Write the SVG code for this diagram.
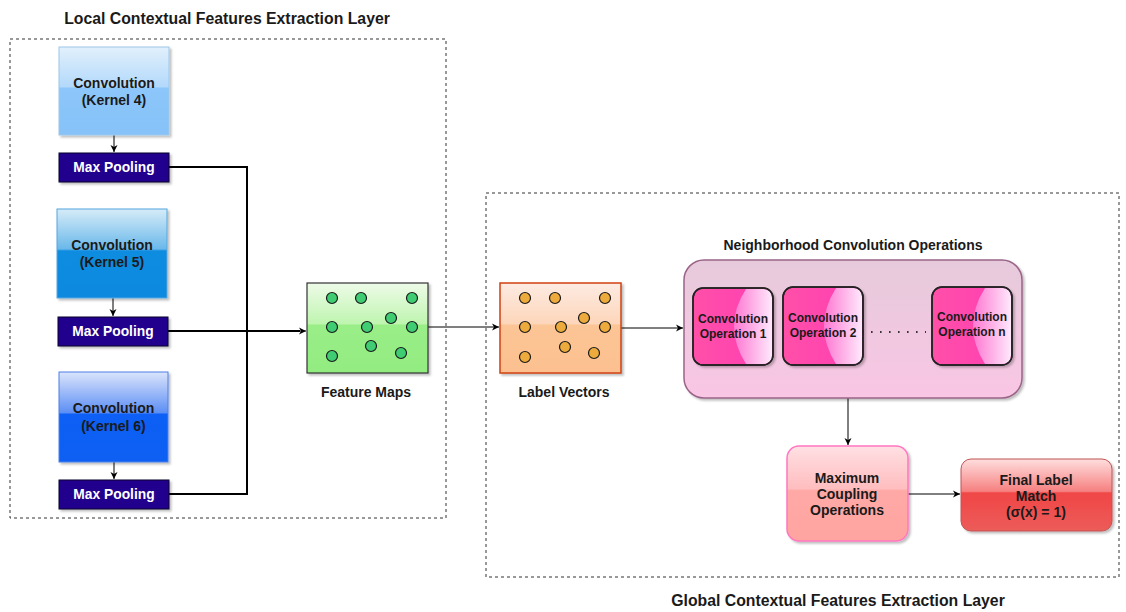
<svg xmlns="http://www.w3.org/2000/svg" width="1126" height="612" viewBox="0 0 1126 612">
<defs>
<style>
text{font-family:"Liberation Sans",Arial,sans-serif;font-weight:bold;text-anchor:middle;fill:#1a1a1a}
.title{font-size:15.8px}
.nt{font-size:14px}
.small{font-size:12px}
.wt{fill:#ffffff;font-size:13.8px}
.frame{fill:none;stroke:#333;stroke-width:1;stroke-dasharray:3 3}
.conn{fill:none;stroke:#000;stroke-width:1}
.thick{fill:none;stroke:#000;stroke-width:2}
.dotg{fill:#3fcc72;stroke:#1a1a1a;stroke-width:1.2}
.doto{fill:#ecab3c;stroke:#1a1a1a;stroke-width:1.2}
.mp{fill:#22008e;stroke:#0a0a2a;stroke-width:1}
.cop{fill:url(#gC);stroke:#222;stroke-width:1.5}
.copo{fill:none;stroke:#222;stroke-width:1.5}
.gl{fill:url(#gL)}
</style>
<linearGradient id="gB1" x1="0" y1="0" x2="0" y2="1">
<stop offset="0" stop-color="#e2f0fc"/><stop offset="0.45" stop-color="#b3d9fb"/><stop offset="0.47" stop-color="#8cc6fa"/><stop offset="1" stop-color="#86c2f8"/>
</linearGradient>
<linearGradient id="gB2" x1="0" y1="0" x2="0" y2="1">
<stop offset="0" stop-color="#d6ecf8"/><stop offset="0.45" stop-color="#6ab8ea"/><stop offset="0.47" stop-color="#108ce0"/><stop offset="1" stop-color="#0f8ae0"/>
</linearGradient>
<linearGradient id="gB3" x1="0" y1="0" x2="0" y2="1">
<stop offset="0" stop-color="#dbe4fb"/><stop offset="0.45" stop-color="#5d8ff5"/><stop offset="0.47" stop-color="#0d5ff5"/><stop offset="1" stop-color="#0f60f2"/>
</linearGradient>
<linearGradient id="gG" x1="0" y1="0" x2="0" y2="1">
<stop offset="0" stop-color="#eefbe8"/><stop offset="0.45" stop-color="#bff5b0"/><stop offset="0.47" stop-color="#9aee88"/><stop offset="1" stop-color="#92ec80"/>
</linearGradient>
<linearGradient id="gO" x1="0" y1="0" x2="0" y2="1">
<stop offset="0" stop-color="#fdebe2"/><stop offset="0.45" stop-color="#fdd6bb"/><stop offset="0.47" stop-color="#fcc595"/><stop offset="1" stop-color="#fcc090"/>
</linearGradient>
<linearGradient id="gN" x1="0" y1="0" x2="0" y2="1">
<stop offset="0" stop-color="#e6cadb"/><stop offset="1" stop-color="#f9c6e4"/>
</linearGradient>
<linearGradient id="gC" x1="0" y1="0" x2="1" y2="0">
<stop offset="0" stop-color="#ff50a8"/><stop offset="1" stop-color="#ff3cb4"/>
</linearGradient>
<linearGradient id="gL" x1="0" y1="0" x2="1" y2="0">
<stop offset="0" stop-color="#ff78d2"/><stop offset="1" stop-color="#ffe8fc"/>
</linearGradient>
<linearGradient id="gP" x1="0" y1="0" x2="0" y2="1">
<stop offset="0" stop-color="#ffe0e4"/><stop offset="0.45" stop-color="#ffbdbf"/><stop offset="0.47" stop-color="#ffa9a6"/><stop offset="1" stop-color="#ffa4a0"/>
</linearGradient>
<linearGradient id="gR" x1="0" y1="0" x2="0" y2="1">
<stop offset="0" stop-color="#ffdede"/><stop offset="0.45" stop-color="#f68080"/><stop offset="0.47" stop-color="#f04646"/><stop offset="1" stop-color="#ec5c5a"/>
</linearGradient>
<filter id="sh" x="-10%" y="-10%" width="130%" height="130%">
<feDropShadow dx="2" dy="2" stdDeviation="1.2" flood-color="#000" flood-opacity="0.25"/>
</filter>
<marker id="ar" markerWidth="8" markerHeight="8" refX="7" refY="4" orient="auto" markerUnits="userSpaceOnUse">
<path d="M0,0.5 L7,4 L0,7.5 L2,4 Z" fill="#000"/>
</marker>
</defs>

<g id="frames">
<rect class="frame" x="10" y="39" width="436" height="479"/>
<rect class="frame" x="486" y="193" width="633" height="384"/>
<text class="title" x="227" y="24">Local Contextual Features Extraction Layer</text>
<text class="title" x="838" y="606">Global Contextual Features Extraction Layer</text>
</g>

<g id="connectors">
<line class="conn" x1="114" y1="135" x2="114" y2="152" marker-end="url(#ar)"/>
<line class="conn" x1="113" y1="298" x2="113" y2="316" marker-end="url(#ar)"/>
<line class="conn" x1="114" y1="462" x2="114" y2="479" marker-end="url(#ar)"/>
<polyline class="thick" points="169,167 247,167 247,330"/>
<polyline class="thick" points="169,494 247,494 247,330"/>
<line class="thick" x1="168" y1="331" x2="300" y2="331"/>
<line class="conn" x1="298" y1="331" x2="306" y2="331" marker-end="url(#ar)"/>
<line class="conn" x1="428" y1="327" x2="499" y2="327" marker-end="url(#ar)"/>
<line class="conn" x1="621" y1="328" x2="683" y2="328" marker-end="url(#ar)"/>
<line class="conn" x1="848" y1="398" x2="848" y2="445" marker-end="url(#ar)"/>
<line class="conn" x1="908" y1="494" x2="960" y2="494" marker-end="url(#ar)"/>
</g>

<g id="conv4">
<rect x="59" y="47" width="110" height="88" fill="url(#gB1)" stroke="#9cc7ea" filter="url(#sh)"/>
<text class="nt" x="114" y="88">Convolution</text>
<text class="nt" x="114" y="105">(Kernel 4)</text>
</g>
<g id="pool1">
<rect class="mp" x="59" y="153" width="110" height="29" filter="url(#sh)"/>
<text class="wt" x="114" y="172">Max Pooling</text>
</g>
<g id="conv5">
<rect x="57" y="209" width="110" height="89" fill="url(#gB2)" stroke="#55a6e0" filter="url(#sh)"/>
<text class="nt" x="112" y="250">Convolution</text>
<text class="nt" x="112" y="267">(Kernel 5)</text>
</g>
<g id="pool2">
<rect class="mp" x="58" y="317" width="110" height="29" filter="url(#sh)"/>
<text class="wt" x="113" y="336">Max Pooling</text>
</g>
<g id="conv6">
<rect x="59" y="372" width="109" height="90" fill="url(#gB3)" stroke="#4d80e8" filter="url(#sh)"/>
<text class="nt" x="113.5" y="413">Convolution</text>
<text class="nt" x="113.5" y="431">(Kernel 6)</text>
</g>
<g id="pool3">
<rect class="mp" x="59" y="480" width="110" height="29" filter="url(#sh)"/>
<text class="wt" x="114" y="499">Max Pooling</text>
</g>

<g id="featureMaps">
<rect x="307" y="283" width="121" height="90" fill="url(#gG)" stroke="#333" stroke-width="1.2" filter="url(#sh)"/>
<circle class="dotg" cx="332" cy="298" r="5.5"/>
<circle class="dotg" cx="361" cy="298" r="5.5"/>
<circle class="dotg" cx="412" cy="298" r="5.5"/>
<circle class="dotg" cx="391" cy="318" r="5.5"/>
<circle class="dotg" cx="332" cy="327" r="5.5"/>
<circle class="dotg" cx="367" cy="327" r="5.5"/>
<circle class="dotg" cx="412" cy="327" r="5.5"/>
<circle class="dotg" cx="371" cy="346" r="5.5"/>
<circle class="dotg" cx="332" cy="356" r="5.5"/>
<circle class="dotg" cx="401" cy="353" r="5.5"/>
<text class="nt" x="366" y="397">Feature Maps</text>
</g>

<g id="labelVectors">
<rect x="500" y="283" width="121" height="90" fill="url(#gO)" stroke="#d04010" stroke-width="1.5" filter="url(#sh)"/>
<circle class="doto" cx="525" cy="298" r="5.5"/>
<circle class="doto" cx="555" cy="298" r="5.5"/>
<circle class="doto" cx="605" cy="298" r="5.5"/>
<circle class="doto" cx="584" cy="318" r="5.5"/>
<circle class="doto" cx="525" cy="327" r="5.5"/>
<circle class="doto" cx="561" cy="327" r="5.5"/>
<circle class="doto" cx="605" cy="327" r="5.5"/>
<circle class="doto" cx="565" cy="347" r="5.5"/>
<circle class="doto" cx="525" cy="357" r="5.5"/>
<circle class="doto" cx="594" cy="353" r="5.5"/>
<text class="nt" x="564" y="397">Label Vectors</text>
</g>

<g id="neighborhood">
<rect x="684" y="260" width="338" height="138" rx="20" fill="url(#gN)" stroke="#9a6488" stroke-width="1.5" filter="url(#sh)"/>
<text class="nt" x="853" y="250">Neighborhood Convolution Operations</text>
<line x1="862" y1="332" x2="926" y2="332" stroke="#000" stroke-width="1.6" stroke-dasharray="1.6 7.4"/>
</g>
<g id="convOp1">
<rect class="cop" x="693" y="288" width="80" height="77" rx="10" filter="url(#sh)"/>
<path class="gl" d="M746,289 Q722,326 746,364 L763,364 Q772,364 772,355 L772,298 Q772,289 763,289 Z"/>
<rect class="copo" x="693" y="288" width="80" height="77" rx="10"/>
<text class="small" x="733" y="323">Convolution</text>
<text class="small" x="733" y="338">Operation 1</text>
</g>
<g id="convOp2">
<rect class="cop" x="783" y="287" width="80" height="78" rx="10" filter="url(#sh)"/>
<path class="gl" d="M836,288 Q812,326 836,364 L853,364 Q862,364 862,355 L862,297 Q862,288 853,288 Z"/>
<rect class="copo" x="783" y="287" width="80" height="78" rx="10"/>
<text class="small" x="823" y="322">Convolution</text>
<text class="small" x="823" y="337">Operation 2</text>
</g>
<g id="convOpN">
<rect class="cop" x="932" y="287" width="80" height="78" rx="10" filter="url(#sh)"/>
<path class="gl" d="M985,288 Q961,326 985,364 L1002,364 Q1011,364 1011,355 L1011,297 Q1011,288 1002,288 Z"/>
<rect class="copo" x="932" y="287" width="80" height="78" rx="10"/>
<text class="small" x="972" y="321">Convolution</text>
<text class="small" x="972" y="336">Operation n</text>
</g>

<g id="maxCoupling">
<rect x="787" y="446" width="121" height="95" rx="12" fill="url(#gP)" stroke="#ff77c0" stroke-width="1.5" filter="url(#sh)"/>
<text class="nt" x="847" y="483">Maximum</text>
<text class="nt" x="847" y="499">Coupling</text>
<text class="nt" x="847" y="515">Operations</text>
</g>
<g id="finalMatch">
<rect x="961" y="459" width="151" height="72" rx="10" fill="url(#gR)" stroke="#c05555" stroke-width="1" filter="url(#sh)"/>
<text class="nt" x="1036" y="485">Final Label</text>
<text class="nt" x="1036" y="501">Match</text>
<text class="nt" x="1036" y="517">(σ(x) = 1)</text>
</g>
</svg>
